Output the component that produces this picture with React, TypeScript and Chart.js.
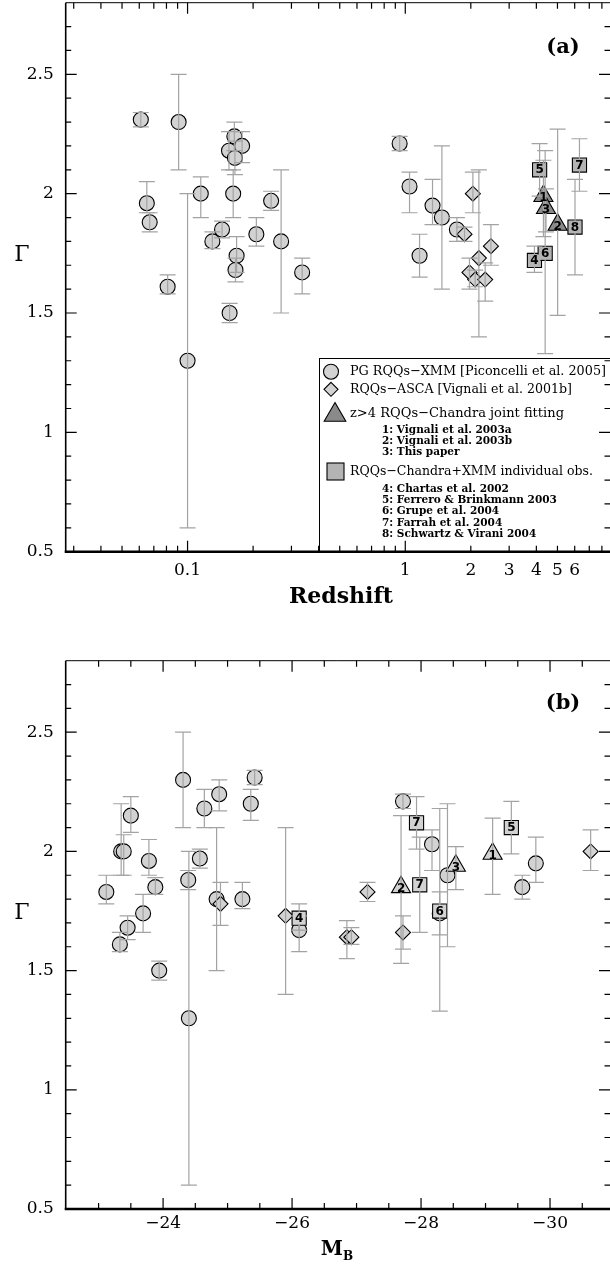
import React, { useEffect, useRef } from "react";
import { Chart, registerables } from "chart.js";

Chart.register(...registerables);

// ---------------- Panel (a): Gamma vs redshift ----------------
const TOP_PG_Z = [0.061, 0.091, 0.065, 0.067, 0.081, 0.115, 0.1, 0.13, 0.144, 0.164, 0.155, 0.178, 0.165, 0.162, 0.168, 0.166, 0.207, 0.242, 0.269, 0.336, 0.156, 0.942, 1.046, 1.163, 1.334, 1.473, 1.726];
const TOP_PG_G = [2.31, 2.3, 1.96, 1.88, 1.61, 2.0, 1.3, 1.8, 1.85, 2.24, 2.18, 2.2, 2.15, 2.0, 1.74, 1.68, 1.83, 1.97, 1.8, 1.67, 1.5, 2.21, 2.03, 1.74, 1.95, 1.9, 1.85];
const TOP_PG_UP = [0.03, 0.2, 0.09, 0.04, 0.05, 0.07, 0.7, 0.04, 0.035, 0.06, 0.08, 0.06, 0.07, 0.1, 0.08, 0.05, 0.07, 0.04, 0.3, 0.06, 0.04, 0.03, 0.06, 0.09, 0.11, 0.3, 0.05];
const TOP_PG_DN = [0.03, 0.2, 0.04, 0.04, 0.03, 0.1, 0.7, 0.03, 0.035, 0.06, 0.08, 0.07, 0.07, 0.1, 0.07, 0.05, 0.05, 0.04, 0.3, 0.09, 0.04, 0.03, 0.11, 0.09, 0.08, 0.3, 0.05];

const TOP_ASCA_Z = [2.044, 1.871, 2.178, 2.474, 1.972, 2.094, 2.328];
const TOP_ASCA_G = [2.0, 1.83, 1.73, 1.78, 1.67, 1.64, 1.64];
const TOP_ASCA_UP = [0.09, 0.03, 0.37, 0.09, 0.06, 0.04, 0.07];
const TOP_ASCA_DN = [0.08, 0.03, 0.33, 0.08, 0.07, 0.03, 0.09];

const TOP_TRI_LAB = ["1", "2", "3"];
const TOP_TRI_Z = [4.31, 5.01, 4.43];
const TOP_TRI_G = [1.99, 1.87, 1.94];
const TOP_TRI_UP = [0.15, 0.4, 0.08];
const TOP_TRI_DN = [0.17, 0.38, 0.1];

const TOP_SQ_LAB = ["4", "5", "6", "7", "8"];
const TOP_SQ_Z = [3.92, 4.14, 4.39, 6.31, 6.02];
const TOP_SQ_G = [1.72, 2.1, 1.75, 2.12, 1.86];
const TOP_SQ_UP = [0.06, 0.11, 0.43, 0.11, 0.2];
const TOP_SQ_DN = [0.05, 0.11, 0.42, 0.11, 0.2];

const Z_MIN = 0.02756;
const Z_MAX = 8.716;
const Z_LABEL_TICKS = [0.1, 1, 2, 3, 4, 5, 6];
const Z_MAJOR_TICKS = [0.1, 1];
const Z_MINOR_TICKS = [0.03, 0.04, 0.05, 0.06, 0.07, 0.08, 0.09, 0.2, 0.3, 0.4, 0.5, 0.6, 0.7, 0.8, 0.9, 2, 3, 4, 5, 6, 7, 8];

// ---------------- Panel (b): Gamma vs M_B ----------------
const BOT_PG_M = [-23.12, -23.33, -23.45, -23.35, -23.39, -23.5, -23.69, -23.78, -23.88, -23.94, -24.31, -24.4, -24.39, -24.57, -24.64, -24.87, -24.83, -25.23, -25.36, -25.42, -26.11, -27.72, -28.17, -28.41, -28.29, -29.78, -29.57];
const BOT_PG_G = [1.83, 1.61, 1.68, 2.0, 2.0, 2.15, 1.74, 1.96, 1.85, 1.5, 2.3, 1.3, 1.88, 1.97, 2.18, 2.24, 1.8, 1.8, 2.2, 2.31, 1.67, 2.21, 2.03, 1.9, 1.74, 1.95, 1.85];
const BOT_PG_UP = [0.07, 0.05, 0.05, 0.2, 0.07, 0.08, 0.08, 0.09, 0.04, 0.04, 0.2, 0.7, 0.04, 0.04, 0.08, 0.06, 0.3, 0.07, 0.06, 0.03, 0.06, 0.03, 0.06, 0.3, 0.09, 0.11, 0.05];
const BOT_PG_DN = [0.05, 0.03, 0.05, 0.1, 0.1, 0.07, 0.08, 0.06, 0.03, 0.04, 0.2, 0.7, 0.04, 0.04, 0.08, 0.07, 0.3, 0.04, 0.07, 0.03, 0.09, 0.03, 0.11, 0.3, 0.09, 0.08, 0.05];

const BOT_ASCA_M = [-24.89, -25.9, -26.85, -26.92, -27.17, -27.72, -30.63];
const BOT_ASCA_G = [1.78, 1.73, 1.64, 1.64, 1.83, 1.66, 2.0];
const BOT_ASCA_UP = [0.09, 0.37, 0.07, 0.04, 0.04, 0.07, 0.09];
const BOT_ASCA_DN = [0.09, 0.33, 0.09, 0.03, 0.04, 0.07, 0.08];

const BOT_TRI_LAB = ["1", "2", "3"];
const BOT_TRI_M = [-29.11, -27.69, -28.54];
const BOT_TRI_G = [1.99, 1.85, 1.94];
const BOT_TRI_UP = [0.15, 0.3, 0.08];
const BOT_TRI_DN = [0.17, 0.32, 0.1];

const BOT_SQ_LAB = ["4", "5", "6", "7", "7"];
const BOT_SQ_M = [-26.11, -29.4, -28.29, -27.93, -27.98];
const BOT_SQ_G = [1.72, 2.1, 1.75, 2.12, 1.86];
const BOT_SQ_UP = [0.06, 0.11, 0.43, 0.11, 0.2];
const BOT_SQ_DN = [0.05, 0.11, 0.42, 0.11, 0.2];

const M_MIN = -30.93;
const M_MAX = -22.49;
const M_LABEL_TICKS = [-24, -26, -28, -30];
const M_MINOR_TICKS = [-23, -23.5, -24.5, -25, -25.5, -26.5, -27, -27.5, -28.5, -29, -29.5, -30.5];

const G_MIN = 0.5;
const G_MAX = 2.8;
const G_LABEL_TICKS = [0.5, 1, 1.5, 2, 2.5];
const G_MINOR_TICKS = [0.6, 0.7, 0.8, 0.9, 1.1, 1.2, 1.3, 1.4, 1.6, 1.7, 1.8, 1.9, 2.1, 2.2, 2.3, 2.4, 2.6, 2.7];

const LEGEND_MAIN = [
  "PG RQQs\u2212XMM [Piconcelli et al. 2005]",
  "RQQs\u2212ASCA [Vignali et al. 2001b]",
  "z>4 RQQs\u2212Chandra joint fitting",
  "RQQs\u2212Chandra+XMM individual obs.",
];
const LEGEND_TRI_SUB = ["1: Vignali et al. 2003a", "2: Vignali et al. 2003b", "3: This paper"];
const LEGEND_SQ_SUB = ["4: Chartas et al. 2002", "5: Ferrero & Brinkmann 2003", "6: Grupe et al. 2004", "7: Farrah et al. 2004", "8: Schwartz & Virani 2004"];

// ---------------- helpers ----------------
const SERIF = "'DejaVu Serif', 'Liberation Serif', serif";
const LIGHT = "#d2d2d2";
const BAR = "#a3a3a3";

function pts(xs: number[], gs: number[], up: number[], dn: number[], labs?: string[]) {
  return xs.map((x, i) => ({ x, y: gs[i], up: up[i], dn: dn[i], lab: labs ? labs[i] : "" }));
}

function ds(data: any[], style: string, radius: number, fill: string, order: number) {
  return {
    data,
    pointStyle: style,
    pointRadius: radius,
    pointHoverRadius: radius,
    pointBackgroundColor: fill,
    pointBorderColor: "#000",
    pointBorderWidth: 1.1,
    showLine: false,
    order,
  };
}

function drawTri(ctx: CanvasRenderingContext2D, x: number, y: number, r: number, fill: string) {
  ctx.beginPath();
  ctx.moveTo(x, y - r);
  ctx.lineTo(x + r * Math.sin((2 * Math.PI) / 3), y + r / 2);
  ctx.lineTo(x - r * Math.sin((2 * Math.PI) / 3), y + r / 2);
  ctx.closePath();
  ctx.fillStyle = fill;
  ctx.fill();
  ctx.stroke();
}

function framePlugin(cfg: any) {
  return {
    id: "frame" + cfg.name,
    afterDatasetsDraw(chart: any) {
      const ctx: CanvasRenderingContext2D = chart.ctx;
      const ca = chart.chartArea;
      const xs = chart.scales.x;
      const ys = chart.scales.y;
      ctx.save();
      // error bars (drawn over markers, like the original)
      ctx.strokeStyle = BAR;
      ctx.lineWidth = 1.2;
      chart.data.datasets.forEach((d: any, di: number) => {
        const meta = chart.getDatasetMeta(di);
        d.data.forEach((p: any, i: number) => {
          const el = meta.data[i];
          const px = el.x;
          const yt = ys.getPixelForValue(p.y + p.up);
          const yb = ys.getPixelForValue(p.y - p.dn);
          ctx.beginPath();
          ctx.moveTo(px, yt);
          ctx.lineTo(px, yb);
          ctx.moveTo(px - 8, yt);
          ctx.lineTo(px + 8, yt);
          ctx.moveTo(px - 8, yb);
          ctx.lineTo(px + 8, yb);
          ctx.stroke();
        });
      });
      // numbers inside markers
      ctx.fillStyle = "#000";
      ctx.font = "bold 12px 'DejaVu Sans', sans-serif";
      ctx.textAlign = "center";
      ctx.textBaseline = "middle";
      chart.data.datasets.forEach((d: any, di: number) => {
        const meta = chart.getDatasetMeta(di);
        d.data.forEach((p: any, i: number) => {
          if (!p.lab) return;
          const el = meta.data[i];
          const dy = d.pointStyle === "triangle" ? 2 : 0.5;
          if (d.pointStyle === "rect") {
            ctx.fillStyle = d.pointBackgroundColor;
            ctx.fillRect(el.x - 6, el.y - 6, 12, 12);
            ctx.fillStyle = "#000";
          }
          ctx.fillText(p.lab, el.x, el.y + dy);
        });
      });

      // legend (panel a)
      if (cfg.legend) {
        const x0 = 319;
        const y0 = 358;
        ctx.fillStyle = "#fff";
        ctx.fillRect(x0, y0, ca.right + 4 - x0, ca.bottom - y0);
        ctx.strokeStyle = "#000";
        ctx.lineWidth = 1;
        ctx.strokeRect(x0 + 0.5, y0 + 0.5, ca.right + 4 - x0, ca.bottom - y0);
        ctx.lineWidth = 1.1;
        // circle
        ctx.beginPath();
        ctx.arc(331, 371.7, 7.5, 0, Math.PI * 2);
        ctx.fillStyle = LIGHT;
        ctx.fill();
        ctx.stroke();
        // diamond
        ctx.beginPath();
        ctx.moveTo(331, 382.3);
        ctx.lineTo(338, 389.3);
        ctx.lineTo(331, 396.3);
        ctx.lineTo(324, 389.3);
        ctx.closePath();
        ctx.fill();
        ctx.stroke();
        // triangle
        drawTri(ctx, 335, 415, 12.5, "#8a8a8a");
        // square
        ctx.fillStyle = "#b4b4b4";
        ctx.fillRect(327, 463, 17, 17);
        ctx.strokeRect(327, 463, 17, 17);

        ctx.fillStyle = "#000";
        ctx.textAlign = "left";
        ctx.textBaseline = "middle";
        ctx.font = `13.5px ${SERIF}`;
        const mainY = [371.7, 389.3, 413.3, 471.7];
        const mainW = [256, 222, 214, 243];
        LEGEND_MAIN.forEach((t, i) => ctx.fillText(t, 350, mainY[i], mainW[i]));
        ctx.font = `bold 10.5px ${SERIF}`;
        LEGEND_TRI_SUB.forEach((t, i) => ctx.fillText(t, 382, 430 + i * 11));
        LEGEND_SQ_SUB.forEach((t, i) => ctx.fillText(t, 382, 489.3 + i * 11.2));
      }

      // frame (right edge sits at the page edge, as in the original)
      ctx.strokeStyle = "#000";
      ctx.lineWidth = 1;
      ctx.beginPath();
      ctx.moveTo(ca.left, ca.top);
      ctx.lineTo(ca.right, ca.top);
      ctx.moveTo(ca.right + 0.5, ca.top);
      ctx.lineTo(ca.right + 0.5, ca.bottom);
      ctx.stroke();
      ctx.lineWidth = 1.6;
      ctx.beginPath();
      ctx.moveTo(ca.left, ca.top);
      ctx.lineTo(ca.left, ca.bottom);
      ctx.stroke();
      ctx.lineWidth = 2.6;
      ctx.beginPath();
      ctx.moveTo(ca.left - 1, ca.bottom);
      ctx.lineTo(ca.right, ca.bottom);
      ctx.stroke();

      // ticks
      ctx.lineWidth = 1.2;
      const xt = (vals: number[], len: number) => {
        vals.forEach((v) => {
          const p = xs.getPixelForValue(v);
          ctx.beginPath();
          ctx.moveTo(p, ca.bottom);
          ctx.lineTo(p, ca.bottom - len);
          ctx.moveTo(p, ca.top);
          ctx.lineTo(p, ca.top + len);
          ctx.stroke();
        });
      };
      const yt = (vals: number[], len: number) => {
        vals.forEach((v) => {
          const p = ys.getPixelForValue(v);
          ctx.beginPath();
          ctx.moveTo(ca.left, p);
          ctx.lineTo(ca.left + len, p);
          ctx.moveTo(ca.right, p);
          ctx.lineTo(ca.right - len, p);
          ctx.stroke();
        });
      };
      xt(cfg.xMajor, 11);
      xt(cfg.xMinor, 6);
      yt(G_LABEL_TICKS, 11);
      yt(G_MINOR_TICKS, 5.5);

      // titles
      ctx.fillStyle = "#000";
      ctx.textAlign = "center";
      ctx.textBaseline = "middle";
      ctx.font = `22px ${SERIF}`;
      ctx.fillText("\u0393", 22, cfg.gammaY);
      ctx.font = `bold 21px ${SERIF}`;
      ctx.fillText(cfg.panel, 563, ca.top + cfg.panelDy);
      if (cfg.name === "a") {
        ctx.font = `bold 22px ${SERIF}`;
        ctx.fillText("Redshift", 341, ca.bottom + 45.5);
      } else {
        ctx.font = `bold 20px ${SERIF}`;
        ctx.textAlign = "right";
        ctx.fillText("M", 343, ca.bottom + 41);
        ctx.font = `bold 12px ${SERIF}`;
        ctx.textAlign = "left";
        ctx.fillText("B", 343, ca.bottom + 48);
      }
      ctx.restore();
    },
  };
}

function baseOptions(cfg: any) {
  const tickFont = { family: SERIF, size: 17 };
  return {
    animation: false,
    responsive: true,
    maintainAspectRatio: false,
    events: [],
    layout: { autoPadding: false, padding: { top: cfg.padTop, left: 0, right: 0, bottom: 0 } },
    plugins: { legend: { display: false }, tooltip: { enabled: false } },
    scales: {
      x: {
        type: cfg.xType,
        min: cfg.xMin,
        max: cfg.xMax,
        reverse: cfg.reverse,
        afterBuildTicks: (s: any) => {
          s.ticks = cfg.xLabels.map((v: number) => ({ value: v }));
        },
        afterFit: (s: any) => {
          s.height = cfg.xHeight;
          s.paddingLeft = 0;
          s.paddingRight = 0;
          s.paddingTop = 0;
          s.paddingBottom = 0;
        },
        grid: { display: false, drawTicks: false },
        border: { display: false },
        ticks: {
          autoSkip: false,
          maxRotation: 0,
          minRotation: 0,
          padding: cfg.xPad,
          color: "#000",
          font: tickFont,
          callback: cfg.xFmt,
        },
      },
      y: {
        type: "linear",
        min: G_MIN,
        max: G_MAX,
        afterBuildTicks: (s: any) => {
          s.ticks = G_LABEL_TICKS.map((v) => ({ value: v }));
        },
        afterFit: (s: any) => {
          s.width = 65.7;
          s.paddingLeft = 0;
          s.paddingRight = 0;
          s.paddingTop = 0;
          s.paddingBottom = 0;
        },
        grid: { display: false, drawTicks: false },
        border: { display: false },
        ticks: {
          padding: 12,
          color: "#000",
          font: tickFont,
          callback: (v: number) => String(v),
        },
      },
    },
  };
}

function Panel(props: { cfg: any; datasets: any[]; top: number; height: number }) {
  const ref = useRef<HTMLCanvasElement | null>(null);
  useEffect(() => {
    if (!ref.current) return;
    const chart = new Chart(ref.current, {
      type: "scatter",
      data: { datasets: props.datasets },
      options: baseOptions(props.cfg) as any,
      plugins: [framePlugin(props.cfg)],
    } as any);
    return () => chart.destroy();
  }, []);
  return (
    <div style={{ position: "absolute", left: 0, top: props.top, width: 610, height: props.height }}>
      <canvas ref={ref} />
    </div>
  );
}

export default function App() {
  const topSets = [
    ds(pts(TOP_PG_Z, TOP_PG_G, TOP_PG_UP, TOP_PG_DN), "circle", 7.5, LIGHT, 4),
    ds(pts(TOP_ASCA_Z, TOP_ASCA_G, TOP_ASCA_UP, TOP_ASCA_DN), "rectRot", 7.5, LIGHT, 3),
    ds(pts(TOP_TRI_Z, TOP_TRI_G, TOP_TRI_UP, TOP_TRI_DN, TOP_TRI_LAB), "triangle", 11, "#8a8a8a", 2),
    ds(pts(TOP_SQ_Z, TOP_SQ_G, TOP_SQ_UP, TOP_SQ_DN, TOP_SQ_LAB), "rect", 10, "#b4b4b4", 1),
  ];
  const botSets = [
    ds(pts(BOT_PG_M, BOT_PG_G, BOT_PG_UP, BOT_PG_DN), "circle", 7.5, LIGHT, 4),
    ds(pts(BOT_ASCA_M, BOT_ASCA_G, BOT_ASCA_UP, BOT_ASCA_DN), "rectRot", 7.5, LIGHT, 3),
    ds(pts(BOT_TRI_M, BOT_TRI_G, BOT_TRI_UP, BOT_TRI_DN, BOT_TRI_LAB), "triangle", 11, LIGHT, 2),
    ds(pts(BOT_SQ_M, BOT_SQ_G, BOT_SQ_UP, BOT_SQ_DN, BOT_SQ_LAB), "rect", 10, LIGHT, 1),
  ];
  const topCfg = {
    name: "a",
    panel: "(a)",
    panelDy: 45.3,
    legend: true,
    padTop: 2.7,
    xType: "logarithmic",
    xMin: Z_MIN,
    xMax: Z_MAX,
    reverse: false,
    xLabels: Z_LABEL_TICKS,
    xMajor: Z_MAJOR_TICKS,
    xMinor: Z_MINOR_TICKS,
    xHeight: 630 - 551.7,
    xPad: 8.5,
    xFmt: (v: number) => String(v),
    gammaY: 255,
  };
  const botCfg = {
    name: "b",
    panel: "(b)",
    panelDy: 42.6,
    legend: false,
    padTop: 30.7,
    xType: "linear",
    xMin: M_MIN,
    xMax: M_MAX,
    reverse: true,
    xLabels: M_LABEL_TICKS,
    xMajor: M_LABEL_TICKS,
    xMinor: M_MINOR_TICKS,
    xHeight: 640 - 579,
    xPad: 4,
    xFmt: (v: number) => "\u2212" + Math.abs(v),
    gammaY: 283,
  };
  return (
    <div style={{ position: "absolute", left: 0, top: 0, width: 610, height: 1270, background: "#fff" }}>
      <Panel cfg={topCfg} datasets={topSets} top={0} height={630} />
      <Panel cfg={botCfg} datasets={botSets} top={630} height={640} />
    </div>
  );
}
